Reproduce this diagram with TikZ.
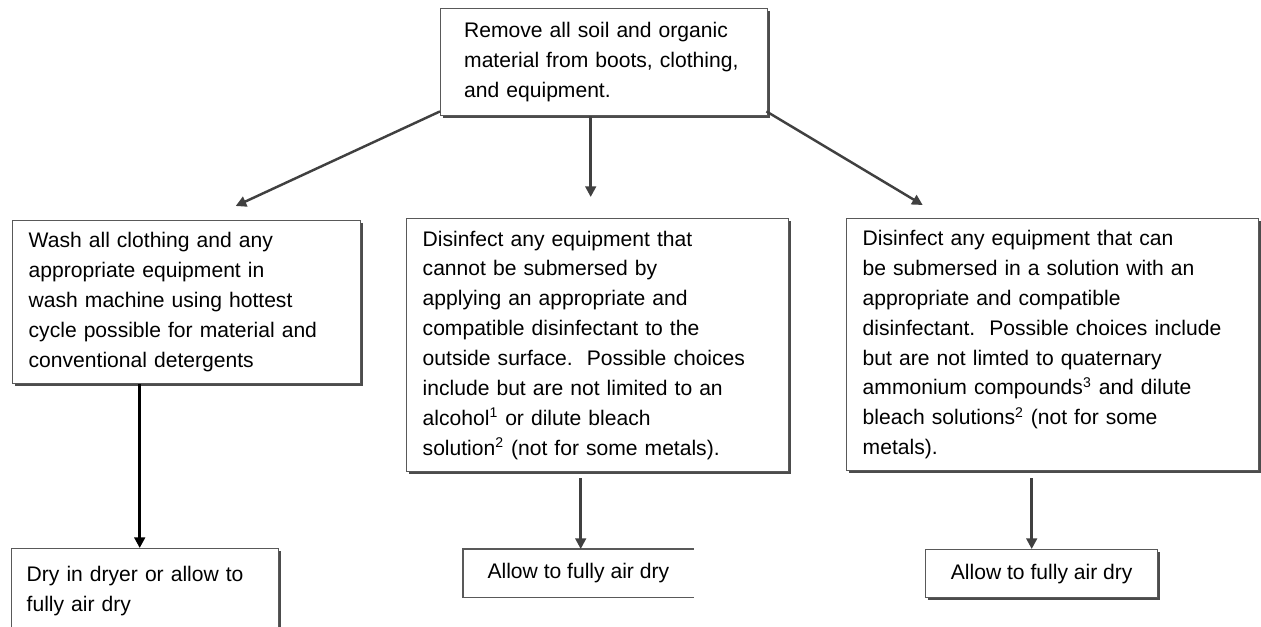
\documentclass[tikz,border=0pt]{standalone}
\usepackage{fontspec}
\setmainfont{Liberation Sans}
\usetikzlibrary{positioning, arrows.meta, shadows}

\begin{document}
\begin{tikzpicture}[
    box/.style={draw=gray!70!black, line width=0.8pt, fill=white, anchor=north west,
                align=left, inner xsep=0.32cm, inner ysep=0pt,
                font=\fontsize{12}{17}\selectfont,
                drop shadow={shadow xshift=1.3pt, shadow yshift=-1.3pt, fill=black!70, opacity=1}},
    drybox/.style={box, align=center, inner xsep=0.3cm},
    openbox/.style={anchor=north west, align=center, inner sep=0pt,
                    font=\fontsize{12}{17}\selectfont},
    edge/.style={draw=gray!70!black, line width=0.8pt},
    arr/.style={-{Triangle[length=6pt, width=6pt]}, line width=1.4pt, draw=black!75},
]
\useasboundingbox (0,0) rectangle (25.22,-12.52);
\clip (0,0) rectangle (25.22,-12.52);

% Top — cleaning step
\node[box, minimum width=6.54cm, minimum height=2.14cm, text width=5.6cm, inner xsep=0.47cm] (clean) at (8.80,-0.16)
    {Remove all soil and organic\\material from boots, clothing,\\and equipment.};

% Middle row — wash / disinfect
\node[box, minimum width=6.96cm, minimum height=3.26cm, text width=6.32cm] (wash) at (0.24,-4.40)
    {Wash all clothing and any\\appropriate equipment in\\wash machine using hottest\\cycle possible for material and\\conventional detergents};
\node[box, minimum width=7.64cm, minimum height=5.06cm, text width=7.00cm] (disinf) at (8.12,-4.36)
    {Disinfect any equipment that\\cannot be submersed by\\applying an appropriate and\\compatible disinfectant to the\\outside surface.\ \ Possible choices\\include but are not limited to an\\alcohol\textsuperscript{1} or dilute bleach\\solution\textsuperscript{2} (not for some metals).};
\node[box, minimum width=8.24cm, minimum height=5.04cm, text width=7.60cm] (soak) at (16.92,-4.36)
    {Disinfect any equipment that can\\be submersed in a solution with an\\appropriate and compatible\\disinfectant.\ \ Possible choices include\\but are not limted to quaternary\\ammonium compounds\textsuperscript{3} and dilute\\bleach solutions\textsuperscript{2} (not for some\\metals).};

% Bottom row — drying
\node[box, minimum width=5.34cm, minimum height=1.68cm, text width=4.74cm, inner xsep=0.3cm] (drywash) at (0.22,-10.96)
    {Dry in dryer or allow to\\fully air dry};
\node[openbox, minimum width=4.60cm, minimum height=0.96cm] (dryout) at (9.26,-10.98)
    {Allow to fully air dry};
\draw[edge] (dryout.north east) -- (dryout.north west) -- (dryout.south west) -- (dryout.south east);
\node[drybox, minimum width=4.64cm, minimum height=0.96cm] (drysoak) at (18.50,-10.98)
    {Allow to fully air dry};

% Arrows
\draw[arr] ([yshift=0.1cm]clean.south west) -- ([shift={(0.98,0.28)}]wash.north);
\draw[arr, shorten >=0.42cm] ([xshift=-0.27cm]clean.south) -- ([xshift=-0.27cm]clean.south |- disinf.north);
\draw[arr] ([shift={(-0.04,0.1)}]clean.south east) -- ([shift={(-2.6,0.26)}]soak.north);
\draw[arr, line width=1.8pt, draw=black] ([xshift=-0.94cm]wash.south) -- ([xshift=-0.94cm]wash.south |- drywash.north);
\draw[arr, shorten <=0.12cm] ([xshift=-0.34cm]disinf.south) -- ([xshift=-0.34cm]disinf.south |- dryout.north);
\draw[arr, shorten <=0.14cm] ([xshift=-0.42cm]soak.south) -- ([xshift=-0.42cm]soak.south |- drysoak.north);
\end{tikzpicture}
\end{document}
